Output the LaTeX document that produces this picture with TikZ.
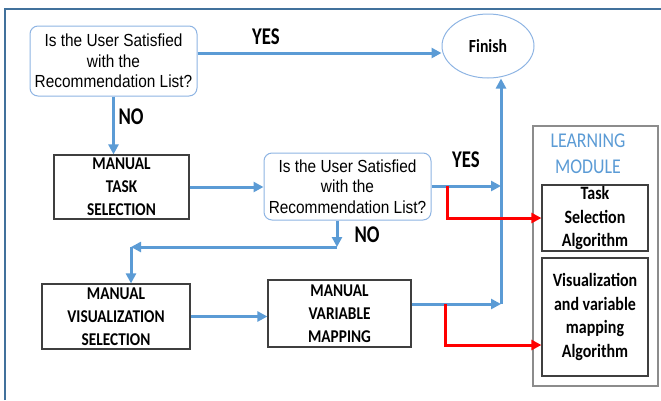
\documentclass[tikz,border=0pt]{standalone}
\usepackage{fontspec}
\setmainfont{Liberation Sans}[FakeStretch=0.88]
\newfontfamily\calfont{Carlito}[FakeStretch=0.85]
\newfontfamily\tallfont{Carlito}[FakeStretch=0.78]
\usetikzlibrary{arrows.meta,shapes.geometric}

\definecolor{flowblue}{HTML}{5B9BD5}
\definecolor{frameblue}{HTML}{41719C}
\definecolor{edgegray}{HTML}{3F3F3F}
\definecolor{modgray}{HTML}{8C8C8C}
\definecolor{askedge}{HTML}{8EB4E3}

\tikzset{
  question/.style={draw=askedge, line width=1pt, rounded corners=8pt, fill=white,
    align=center, inner sep=0pt, font=\fontsize{17.5}{20.5}\selectfont},
  stepbox/.style={draw=edgegray, line width=1.2pt, fill=white, align=center, inner sep=0pt,
    font=\calfont\bfseries\fontsize{18}{23}\selectfont},
  algobox/.style={draw=edgegray, line width=1.2pt, fill=white, align=center, inner sep=0pt,
    font=\calfont\bfseries\fontsize{18.8}{23.5}\selectfont},
  flow/.style={draw=flowblue, line width=3pt, -{Triangle[length=10pt,width=10pt]}},
  redflow/.style={draw=red, line width=3pt, -{Triangle[length=10pt,width=10pt]}},
  lbl/.style={font=\tallfont\bfseries\fontsize{24}{24}\selectfont, inner sep=0pt},
}

\begin{document}
\begin{tikzpicture}[x=1pt, y=-1pt]
\useasboundingbox (0,0) rectangle (661,400);

% outer frame (top and left edges)
\draw[frameblue, line width=2.5pt] (5,400) -- (5,9) -- (661,9);

% process nodes
\node[question, minimum width=167pt, minimum height=70pt] (d1) at (113.5,61)
  {Is the User Satisfied\\with the\\Recommendation List?};
\node[draw=askedge, line width=1pt, ellipse, minimum width=92pt, minimum height=64pt,
  inner sep=0pt, font=\calfont\bfseries\fontsize{18.5}{18.5}\selectfont] (fin) at (488,46) {Finish};
\node[stepbox, minimum width=135pt, minimum height=64pt] (t1) at (121.5,187)
  {MANUAL\\TASK\\SELECTION};
\node[question, minimum width=167pt, minimum height=67pt] (d2) at (347.5,186.5)
  {Is the User Satisfied\\with the\\Recommendation List?};
\node[stepbox, minimum width=148pt, minimum height=65pt] (v1) at (116,316.5)
  {MANUAL\\VISUALIZATION\\SELECTION};
\node[stepbox, minimum width=143pt, minimum height=67pt] (m1) at (339.5,313.5)
  {MANUAL\\VARIABLE\\MAPPING};

% learning module
\node[draw=modgray, line width=1.3pt, minimum width=125pt, minimum height=260pt, inner sep=0pt]
  (lm) at (595.5,256) {};
\node[text=flowblue, align=center, inner sep=0pt,
  font=\calfont\fontsize{21}{26}\selectfont] (lmt) at (588,154) {LEARNING\\MODULE};
\node[algobox, minimum width=106pt, minimum height=66pt] (ta) at (595,218)
  {Task\\Selection\\Algorithm};
\node[algobox, minimum width=106pt, minimum height=118pt] (va) at (595,317)
  {Visualization\\and variable\\mapping\\Algorithm};

% junction points
\coordinate (j1) at (501,186);
\coordinate (j2) at (501,304);
\coordinate (r1) at (447,186);
\coordinate (r2) at (445,304);
\coordinate (r3) at (445,345);
\coordinate (n1) at (337,247);
\coordinate (n2) at (131,247);

% blue flow
\draw[flow] ([yshift=8pt]d1.east) -- ([yshift=8pt]d1.east -| fin.west);
\draw[flow] (d1.south) -- (d1.south |- t1.north);
\draw[flow] (t1.east) -- (t1.east -| d2.west);
\draw[flow] (d2.east |- j1) -- (j1);
\draw[flow] (n1 |- d2.south) -- (n1);
\draw[flow] (n1) -- (n2);
\draw[flow] (n2) -- (n2 |- v1.north);
\draw[flow] (v1.east) -- (v1.east -| m1.west);
\draw[flow] (m1.east |- j2) -- (j2);
\draw[flow] (j2) -- (j2 |- fin.south);

% red links to the learning module
\draw[redflow] (r1) -- (r1 |- ta.west) -- (ta.west);
\draw[redflow] (r2) -- (r3) -- (r3 -| va.west);

% labels
\node[lbl] (yes1) at (266,37) {YES};
\node[lbl] (no1) at (131,117) {NO};
\node[lbl] (yes2) at (466,160) {YES};
\node[lbl] (no2) at (367,235) {NO};
\end{tikzpicture}
\end{document}
